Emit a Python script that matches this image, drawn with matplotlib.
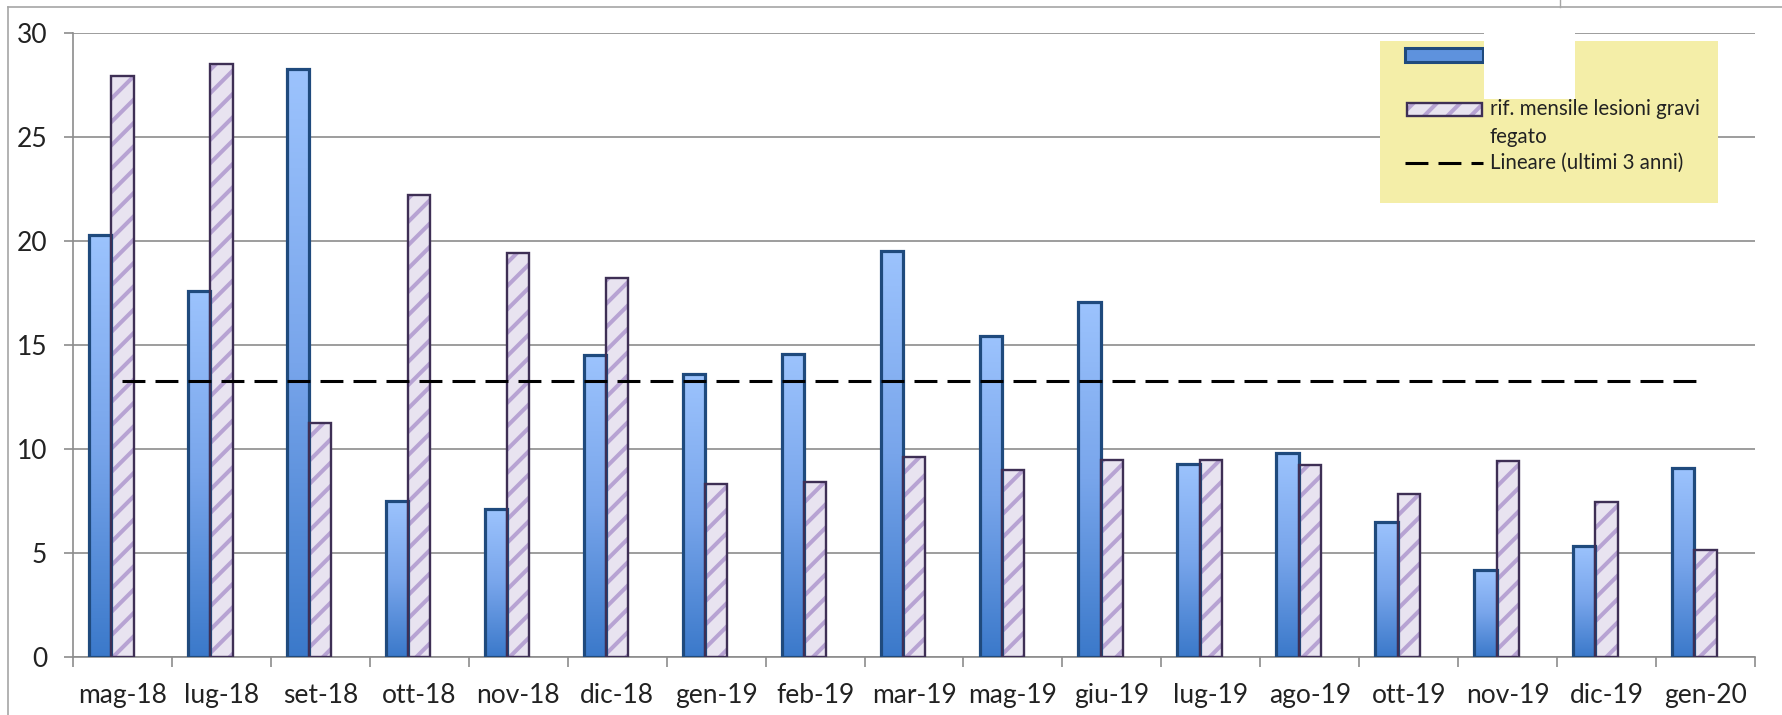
import numpy as np
import matplotlib
matplotlib.use("Agg")
import matplotlib.pyplot as plt
from matplotlib.patches import Rectangle
from matplotlib.lines import Line2D
from matplotlib.colors import LinearSegmentedColormap

# [데이터] ------------------------------------
mesi = ['mag-18', 'lug-18', 'set-18', 'ott-18', 'nov-18', 'dic-18', 'gen-19', 'feb-19',
        'mar-19', 'mag-19', 'giu-19', 'lug-19', 'ago-19', 'ott-19', 'nov-19', 'dic-19', 'gen-20']
serie_blu = [20.3, 17.6, 28.25, 7.5, 7.1, 14.5, 13.6, 14.55, 19.5, 15.45, 17.05,
             9.3, 9.8, 6.5, 4.2, 5.35, 9.1]
rif_fegato = [27.95, 28.5, 11.25, 22.2, 19.4, 18.2, 8.3, 8.4, 9.6, 9.0, 9.45,
              9.45, 9.25, 7.85, 9.4, 7.45, 5.15]
lineare = 13.25
y_ticks = [0, 5, 10, 15, 20, 25, 30]

lab_rif = "rif. mensile lesioni gravi\nfegato"
lab_lin = "Lineare (ultimi 3 anni)"

# [스타일] ------------------------------------
W, H = 1782, 715
DPI = 140            # hatch density depends on dpi
k = 100 / DPI        # point sizes were tuned at 100 dpi
plt.rcParams['font.family'] = ['Lato', 'DejaVu Sans']
plt.rcParams['hatch.linewidth'] = 2.9 * k

fig = plt.figure(figsize=(W / DPI, H / DPI), dpi=DPI)
ax = fig.add_axes([73 / W, 1 - 657 / H, (1755 - 73) / W, (657 - 33) / H])

x = np.arange(len(mesi))
bw = 0.225

# blu gradient
cmap_blu = LinearSegmentedColormap.from_list('blu', ['#3B79CA', '#78A5EB', '#9CC3FD'])
grad = np.linspace(0, 1, 256).reshape(-1, 1)

bars = ax.bar(x - bw, serie_blu, bw, facecolor='none', edgecolor='#1F4A7D',
              linewidth=2.3 * k, zorder=4)
for b in bars:
    im = ax.imshow(grad, cmap=cmap_blu, aspect='auto', origin='lower',
                   extent=[b.get_x(), b.get_x() + b.get_width(), 0, b.get_height()],
                   zorder=3)
    im.set_clip_path(b)

# tratteggio
ax.bar(x, rif_fegato, bw, facecolor='#E8E3F0', edgecolor='#B7A3D3', hatch='//',
       linewidth=0, zorder=3)
ax.bar(x, rif_fegato, bw, fill=False, edgecolor='#3E2F55', linewidth=1.7 * k, zorder=4)

# linea di tendenza
ax.plot([x[0], x[-1]], [lineare, lineare], color='black', linewidth=2.2 * k,
        dashes=(7.5, 3.3), zorder=5)

ax.set_xlim(-0.5, len(mesi) - 0.5)
ax.set_ylim(0, 30)
ax.set_yticks(y_ticks)
ax.set_xticks(np.arange(len(mesi) + 1) - 0.5, minor=True)
ax.set_xticks(x)
ax.set_xticklabels(mesi)
ax.tick_params(axis='x', which='major', length=0, pad=19 * k, labelsize=19 * k,
               labelcolor='#222222')
ax.tick_params(axis='x', which='minor', length=7 * k, width=1.2 * k, color='#8C8C8C',
               direction='out')
ax.tick_params(axis='y', length=6.5 * k, width=1.2 * k, color='#8C8C8C', pad=12 * k,
               labelsize=19 * k, labelcolor='#222222')
ax.yaxis.grid(True, color='#8C8C8C', linewidth=1.2 * k, zorder=0)
ax.set_axisbelow(True)
for s in ['top', 'right']:
    ax.spines[s].set_visible(False)
for s in ['left', 'bottom']:
    ax.spines[s].set_color('#8C8C8C')
    ax.spines[s].set_linewidth(1.2 * k)


def px(xp, yp):
    return (xp / W, 1 - yp / H)


def rect(x0, y0, x1, y1, **kw):
    r = Rectangle(px(x0, y1), (x1 - x0) / W, (y1 - y0) / H, transform=fig.transFigure, **kw)
    fig.patches.append(r)
    return r


# cornice esterna
fig.add_artist(Line2D([8 / W, 1], [1 - 7 / H, 1 - 7 / H], color='#A6A6A6', linewidth=1.2 * k))
fig.add_artist(Line2D([8 / W, 8 / W], [0, 1 - 7 / H], color='#A6A6A6', linewidth=1.2 * k))
fig.add_artist(Line2D([1560 / W, 1560 / W], [1 - 7 / H, 1], color='#A6A6A6', linewidth=1.0 * k))

# [legenda] ------------------------------------
rect(1380, 41, 1718, 203, facecolor='#F4EEA8', edgecolor='none', zorder=10)
rect(1405, 48, 1483, 62, facecolor='#5E92DD', edgecolor='#1F4A7D', linewidth=2.2 * k, zorder=11)
rect(1407, 103, 1482, 116, facecolor='#E8E3F0', edgecolor='#B7A3D3', hatch='//',
     linewidth=0, zorder=11)
rect(1407, 103, 1482, 116, fill=False, edgecolor='#3E2F55', linewidth=1.7 * k, zorder=12)
fig.add_artist(Line2D([1405 / W, 1483 / W], [1 - 163 / H, 1 - 163 / H], color='black',
                      linewidth=2.2 * k, dashes=(7.5, 3.3), zorder=11))
fig.text(*px(1490, 123), lab_rif, fontsize=14.8 * k, va='center', ha='left', color='#222222',
         linespacing=1.55, zorder=12)
fig.text(*px(1490, 163), lab_lin, fontsize=14.8 * k, va='center', ha='left', color='#222222',
         zorder=12)
# etichetta coperta
rect(1484, 28, 1575, 99, facecolor='white', edgecolor='none', zorder=13)

fig.savefig('out.png', dpi=DPI)
